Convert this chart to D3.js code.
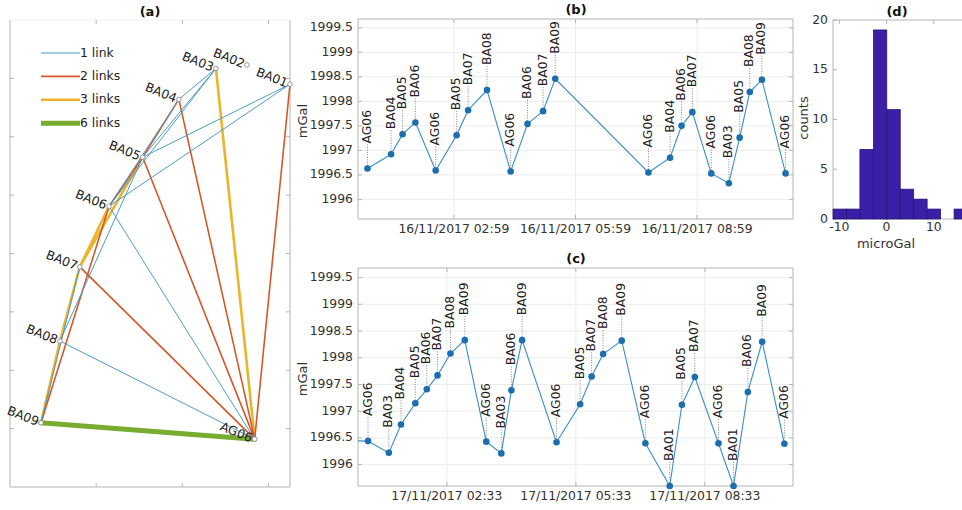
<!DOCTYPE html>
<html>
<head>
<meta charset="utf-8">
<script src="https://cdn.jsdelivr.net/npm/d3@7"></script>
<style>
  body { margin: 0; background: #fff; }
  svg { font-family: "DejaVu Sans", sans-serif; display: block; }
</style>
</head>
<body>
<svg id="fig" width="962" height="510"></svg>
<script>
// ---- (a) gravity network: station grid positions (km) ----
const stationNames = ["BA01", "BA02", "BA03", "BA04", "BA05", "BA06", "BA07", "BA08", "BA09", "AG06"];
const stationX     = [3.25, 2.75, 2.39, 1.96, 1.54, 1.15, 0.81, 0.58, 0.36, 2.84];
const stationY     = [6.90, 7.23, 7.17, 6.64, 5.65, 4.81, 3.77, 2.50, 1.10, 0.82];

// ties measured between station pairs and how many times
const linkFrom  = ["AG06", "AG06", "BA05", "BA07", "BA06", "BA08", "AG06", "BA04", "BA05", "AG06", "AG06", "BA06", "AG06",
                   "AG06", "AG06", "BA07", "BA04", "BA03", "BA05", "BA03", "BA03", "BA01", "BA01"];
const linkTo    = ["BA09", "BA03", "BA07", "BA08", "BA07", "BA09", "BA04", "BA05", "BA06", "BA05", "BA07", "BA09", "BA01",
                   "BA06", "BA08", "BA09", "BA06", "BA05", "BA08", "BA04", "BA06", "BA05", "BA06"];
const linkCount = [6, 3, 3, 3, 3, 3, 2, 2, 2, 2, 2, 2, 2,
                   1, 1, 1, 1, 1, 1, 1, 1, 1, 1];

const legendCounts = [1, 2, 3, 6];
const legendLabels = ["1 link", "2 links", "3 links", "6 links"];

// ---- (b) survey of 16/11/2017 ----
const day1Times    = ["00:51", "01:26", "01:43", "02:02", "02:32", "03:03", "03:20", "03:48", "04:23", "04:48", "05:11",
                      "05:29", "07:47", "08:19", "08:36", "08:52", "09:20", "09:46", "10:02", "10:17", "10:35", "11:10"];
const day1Stations = ["AG06", "BA04", "BA05", "BA06", "AG06", "BA05", "BA07", "BA08", "AG06", "BA06", "BA07",
                      "BA09", "AG06", "BA04", "BA06", "BA07", "AG06", "BA03", "BA05", "BA08", "BA09", "AG06"];
const day1Values   = [1996.63, 1996.92, 1997.33, 1997.57, 1996.59, 1997.31, 1997.82, 1998.23, 1996.57, 1997.54, 1997.80,
                      1998.46, 1996.55, 1996.85, 1997.50, 1997.78, 1996.53, 1996.33, 1997.26, 1998.19, 1998.44, 1996.53];
const day1Range    = ["2017-11-16 00:37", "2017-11-16 11:21"];
const day1Ticks    = ["2017-11-16 02:59", "2017-11-16 05:59", "2017-11-16 08:59"];

// ---- (c) survey of 17/11/2017 ----
const day2Times    = ["00:05", "00:43", "01:12", "01:29", "01:49", "02:05", "02:20", "02:38", "02:58", "03:28", "03:49",
                      "04:03", "04:18", "05:06", "05:39", "05:55", "06:11", "06:37", "07:10", "07:44", "08:01", "08:19",
                      "08:52", "09:13", "09:33", "09:53", "10:24"];
const day2Stations = ["AG06", "AG06", "BA03", "BA04", "BA05", "BA06", "BA07", "BA08", "BA09", "AG06", "BA03",
                      "BA06", "BA09", "AG06", "BA05", "BA07", "BA08", "BA09", "AG06", "BA01", "BA05", "BA07",
                      "AG06", "BA01", "BA06", "BA09", "AG06"];
const day2Values   = [1996.45, 1996.44, 1996.22, 1996.75, 1997.15, 1997.41, 1997.67, 1998.08, 1998.33, 1996.43, 1996.21,
                      1997.39, 1998.33, 1996.42, 1997.13, 1997.65, 1998.07, 1998.32, 1996.40, 1995.60, 1997.12, 1997.64,
                      1996.40, 1995.60, 1997.36, 1998.30, 1996.39];
const day2Range    = ["2017-11-17 00:29", "2017-11-17 10:36"];
const day2Ticks    = ["2017-11-17 02:33", "2017-11-17 05:33", "2017-11-17 08:33"];

const gravityTicks = [1996, 1996.5, 1997, 1997.5, 1998, 1998.5, 1999, 1999.5];

// ---- (d) histogram of residuals (microGal) ----
const histEdges  = [-11.33, -8.485, -5.64, -2.795, 0.05, 2.895, 5.74, 8.585, 11.43, 14.275, 17.12];
const histCounts = [1, 1, 7, 19, 11, 3, 2, 1, 0, 1];
const histXTicks = [-10, 0, 10];
const histYTicks = [0, 5, 10, 15, 20];

// ================= drawing =================
const svg = d3.select("#fig");
const BOX = "#b4b4b4", GRID = "#ececec", TXT = "#333333", TICK = 4;
const FS = 12.4;

function title(x, y, t) {
  svg.append("text").attr("x", x).attr("y", y).attr("text-anchor", "middle")
    .attr("font-size", 13).attr("font-weight", "bold").attr("fill", "#111").text(t);
}

function yLabel(x, y, t) {
  svg.append("text").attr("transform", `translate(${x},${y}) rotate(-90)`)
    .attr("text-anchor", "middle").attr("dominant-baseline", "middle")
    .attr("font-size", 13).attr("fill", TXT).text(t);
}

// frame with inward ticks on all four sides
function frame(g, x0, x1, y0, y1, xt, yt, topColor) {
  const side = (a, b, c, d, col) => g.append("line").attr("x1", a).attr("y1", b).attr("x2", c).attr("y2", d)
    .attr("stroke", col || BOX);
  side(x0, y0, x0, y1);
  side(x1, y0, x1, y1);
  side(x0, y1, x1, y1);
  side(x0, y0, x1, y0, topColor);
  xt.forEach(px => {
    side(px, y1, px, y1 - TICK);
    side(px, y0, px, y0 + TICK);
  });
  yt.forEach(py => {
    side(x0, py, x0 + TICK, py);
    side(x1, py, x1 - TICK, py);
  });
}

// ---------- (a) network map ----------
(function drawMap() {
  const x = d3.scaleLinear().domain([0, 3.25]).range([10, 290]);
  const y = d3.scaleLinear().domain([0, 8]).range([487, 20]);
  const g = svg.append("g");
  frame(g, 10, 290, 20, 487, [1, 2, 3].map(x), d3.range(1, 8).map(y), "#f0f0f0");

  const pos = {};
  stationNames.forEach((n, i) => pos[n] = [x(stationX[i]), y(stationY[i])]);

  const color = d3.scaleOrdinal().domain(legendCounts).range(["#4c9cc6", "#d4582a", "#ebb42a", "#77ac30"]);
  const width = d3.scaleOrdinal().domain(legendCounts).range([1, 1.6, 2.6, 5]);

  const links = linkFrom.map((f, i) => ({ f, t: linkTo[i], n: linkCount[i] }));
  [6, 3, 2, 1].forEach(n => {
    g.selectAll(null).data(links.filter(l => l.n === n)).enter().append("line")
      .attr("x1", d => pos[d.f][0]).attr("y1", d => pos[d.f][1])
      .attr("x2", d => pos[d.t][0]).attr("y2", d => pos[d.t][1])
      .attr("stroke", color(n)).attr("stroke-width", width(n)).attr("stroke-linecap", "round");
  });

  stationNames.forEach(n => {
    const [px, py] = pos[n];
    g.append("circle").attr("cx", px).attr("cy", py).attr("r", 2.3)
      .attr("fill", "#fff").attr("stroke", "#8a8a8a").attr("stroke-width", 0.9);
    g.append("text").attr("transform", `translate(${px - 3},${py}) rotate(22)`)
      .attr("text-anchor", "end").attr("dominant-baseline", "middle")
      .attr("font-size", FS).attr("fill", "#222").text(n);
  });

  // legend
  legendCounts.forEach((n, i) => {
    const ly = 53 + i * 23.4;
    g.append("line").attr("x1", 41).attr("x2", 80).attr("y1", ly).attr("y2", ly)
      .attr("stroke", color(n)).attr("stroke-width", width(n));
    g.append("text").attr("x", 80).attr("y", ly).attr("dominant-baseline", "middle")
      .attr("font-size", FS).attr("fill", "#222").text(legendLabels[i]);
  });
  title(150, 16, "(a)");
})();

// ---------- (b) and (c) time series ----------
const parseT = d3.utcParse("%Y-%m-%d %H:%M");
const fmtT = d3.utcFormat("%d/%m/%Y %H:%M");

function drawSeries(opt) {
  const { day, times, stations, values, range, ticks, top, bottom, name, id } = opt;
  const L = 358, R = 793;
  const x = d3.scaleUtc().domain(range.map(parseT)).range([L, R]);
  const y = d3.scaleLinear().domain([1995.6, 1999.68]).range([bottom, top]);
  const tickDates = ticks.map(parseT);
  const g = svg.append("g");

  // grid
  gravityTicks.forEach(v => g.append("line").attr("x1", L).attr("x2", R).attr("y1", y(v)).attr("y2", y(v))
    .attr("stroke", GRID));
  tickDates.forEach(d => g.append("line").attr("x1", x(d)).attr("x2", x(d)).attr("y1", top).attr("y2", bottom)
    .attr("stroke", GRID));
  frame(g, L, R, top, bottom, tickDates.map(x), gravityTicks.map(y));

  // tick labels
  gravityTicks.forEach(v => g.append("text").attr("x", L - 5).attr("y", y(v)).attr("text-anchor", "end")
    .attr("dominant-baseline", "middle").attr("font-size", FS).attr("fill", TXT).text(v));
  tickDates.forEach(d => g.append("text").attr("x", x(d)).attr("y", bottom + 5).attr("dy", "0.76em")
    .attr("text-anchor", "middle").attr("font-size", FS).attr("fill", TXT).text(fmtT(d)));
  yLabel(303, (top + bottom) / 2 + 2, "mGal");

  const pts = times.map((t, i) => ({ t: parseT(day + " " + t), s: stations[i], v: values[i] }));
  const [d0, d1] = x.domain();
  const inside = pts.filter(p => p.t >= d0 && p.t <= d1);

  g.append("clipPath").attr("id", id).append("rect")
    .attr("x", L).attr("y", top).attr("width", R - L).attr("height", bottom - top);
  g.append("path").datum(pts).attr("clip-path", `url(#${id})`)
    .attr("d", d3.line().x(p => x(p.t)).y(p => y(p.v)))
    .attr("fill", "none").attr("stroke", "#3a8fc4").attr("stroke-width", 1.1);

  // leaders and station labels
  inside.forEach(p => {
    const px = x(p.t), py = y(p.v);
    g.append("line").attr("x1", px).attr("x2", px).attr("y1", py - 3).attr("y2", py - 24)
      .attr("stroke", "#666").attr("stroke-width", 0.8).attr("stroke-dasharray", "1,1.5");
    g.append("text").attr("transform", `translate(${px},${py - 25}) rotate(-90)`)
      .attr("dominant-baseline", "middle").attr("font-size", FS).attr("fill", "#222").text(p.s);
  });
  g.selectAll(null).data(inside).enter().append("circle")
    .attr("cx", p => x(p.t)).attr("cy", p => y(p.v)).attr("r", 3.3).attr("fill", "#1b6fae");

  title(576, top - 5, name);
}

drawSeries({ day: "2017-11-16", times: day1Times, stations: day1Stations, values: day1Values,
  range: day1Range, ticks: day1Ticks, top: 19, bottom: 219, name: "(b)", id: "clipB" });
drawSeries({ day: "2017-11-17", times: day2Times, stations: day2Stations, values: day2Values,
  range: day2Range, ticks: day2Ticks, top: 268, bottom: 486, name: "(c)", id: "clipC" });

// ---------- (d) histogram ----------
(function drawHist() {
  const L = 833, B = 219, T = 20;
  const x = d3.scaleLinear().domain([histEdges[0], histEdges[histEdges.length - 1]]).range([L, 967.5]);
  const y = d3.scaleLinear().domain([0, 20]).range([B, T]);
  const g = svg.append("g");
  frame(g, L, x.range()[1], T, B, histXTicks.map(x), histYTicks.map(y));

  const bins = histCounts.map((c, i) => ({ c, x0: histEdges[i], x1: histEdges[i + 1] })).filter(b => b.c > 0);
  g.selectAll(null).data(bins).enter().append("rect")
    .attr("x", b => x(b.x0)).attr("y", b => y(b.c))
    .attr("width", b => x(b.x1) - x(b.x0)).attr("height", b => B - y(b.c))
    .attr("fill", "#3b1fa6").attr("stroke", "#23126e").attr("stroke-width", 0.7);

  histYTicks.forEach(v => g.append("text").attr("x", L - 5).attr("y", y(v)).attr("text-anchor", "end")
    .attr("dominant-baseline", "middle").attr("font-size", FS).attr("fill", TXT).text(v));
  histXTicks.forEach(v => g.append("text").attr("x", x(v)).attr("y", B + 3).attr("dy", "0.76em")
    .attr("text-anchor", "middle").attr("font-size", FS).attr("fill", TXT).text(v));
  yLabel(804, 118, "counts");
  svg.append("text").attr("x", 886).attr("y", 244).attr("text-anchor", "middle").attr("dominant-baseline", "middle")
    .attr("font-size", 13).attr("fill", TXT).text("microGal");
  title(897, 16, "(d)");
})();
</script>
</body>
</html>
